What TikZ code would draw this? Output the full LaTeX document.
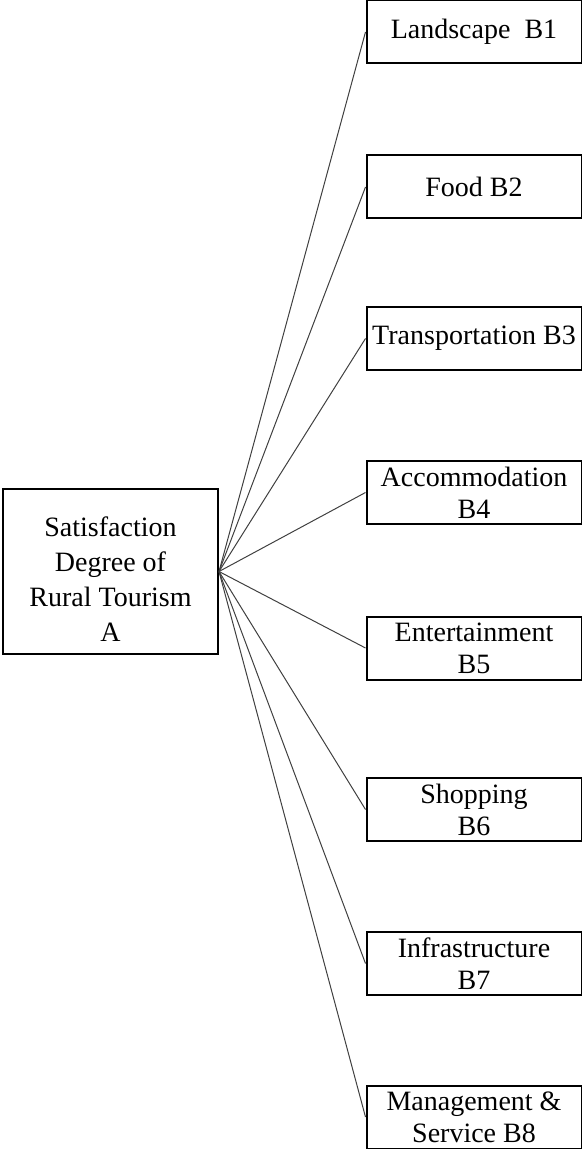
\documentclass[tikz,border=0pt]{standalone}
\usepackage{fontspec}
\setmainfont{Liberation Serif}
\usepackage{xcolor}
\usepackage{tikz}
\usetikzlibrary{positioning}
\definecolor{edgec}{HTML}{000000}
\definecolor{linkc}{HTML}{404040}
\tikzset{
  root/.style={draw=edgec,line width=1pt,align=center,inner sep=1pt,minimum width=107.5pt,minimum height=82.5pt,font=\fontsize{14}{17.5}\selectfont},
  leaf/.style={draw=edgec,line width=1pt,align=center,inner sep=1pt,minimum width=107.5pt,minimum height=31.5pt,font=\fontsize{14}{16}\selectfont},
  link/.style={linkc,line width=0.5pt}
}
\begin{document}
\begin{tikzpicture}[x=0.5pt,y=-0.5pt]
\useasboundingbox (0,0) rectangle (582,1149);
\node[root] (A) at (110.5,571.5) {\rule{0pt}{17.5pt}Satisfaction\\Degree of\\Rural Tourism\\A};
\node[leaf] (B1) at (474,32) {Landscape\ \ B1};
\node[leaf] (B2) at (474,187) {Food B2};
\node[leaf] (B3) at (474,338.5) {Transportation B3};
\node[leaf] (B4) at (474,492.5) {Accommodation\\B4};
\node[leaf] (B5) at (474,648) {Entertainment\\B5};
\node[leaf] (B6) at (474,809.5) {Shopping\\B6};
\node[leaf] (B7) at (474,963.5) {Infrastructure\\B7};
\node[leaf] (B8) at (474,1117) {Management \&\\Service B8};
\foreach \b in {B1,B2,B3,B4,B5,B6,B7,B8}
  \draw[link] (A.east)--(\b.west);
\end{tikzpicture}
\end{document}
